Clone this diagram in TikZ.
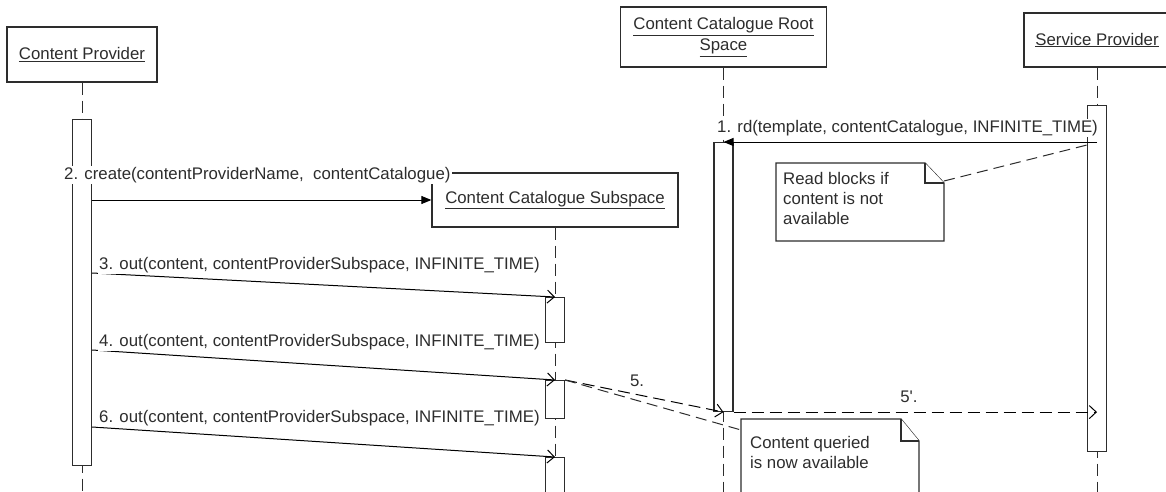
\documentclass[tikz,border=0pt]{standalone}
\usepackage{fontspec}
\setmainfont{Liberation Sans}
\usetikzlibrary{arrows.meta}
\definecolor{ink}{RGB}{45,45,45}
\begin{document}
\begin{tikzpicture}[x=1pt,y=-1pt,
  font=\fontsize{16.8}{20}\selectfont,
  obj/.style={draw=ink, line width=1.3pt, fill=white, inner sep=0pt, text=ink, align=center},
  life/.style={draw=ink, line width=1pt, dash pattern=on 12pt off 6pt},
  bar/.style={draw=ink, line width=1.1pt, fill=white, minimum width=19pt, inner sep=0pt, anchor=north},
  msg/.style={draw=black, line width=1pt},
  sync/.style={msg, -{Triangle[length=10pt,width=8pt]}},
  async/.style={msg, -{Straight Barb[length=7pt,width=13pt,line width=1pt]}},
  reply/.style={async, dash pattern=on 12pt off 6pt},
  lbl/.style={text=ink, fill=white, inner sep=1pt, anchor=west},
  tag/.style={text=ink, inner sep=0pt},
  note/.style={draw=ink, line width=1.2pt, fill=white, line join=miter},
  notetext/.style={text=ink, inner sep=0pt, anchor=north west, align=left},
  noteline/.style={draw=ink, line width=1pt, dash pattern=on 11pt off 6pt}]
\useasboundingbox (0,0) rectangle (1166,492);

% participants
\node[obj, minimum width=150pt, minimum height=55pt] (cp) at (82,54.5) {\underline{Content Provider}};
\node[obj, minimum width=206pt, minimum height=60pt] (root) at (723.5,37) {\underline{Content Catalogue Root}\\[1pt]\underline{Space}};
\node[obj, minimum width=146pt, minimum height=54pt] (sp) at (1097,40) {\underline{Service Provider}};

% lifelines
\draw[life] (cp.south) -- (cp.south |- 0,492);
\draw[life] (root.south) -- (root.south |- 0,492);
\draw[life] (sp.south) -- (sp.south |- 0,492);

% subspace created by message 2
\node[obj, minimum width=246pt, minimum height=54pt] (sub) at (555,200) {\underline{Content Catalogue Subspace}};
\draw[life] (sub.south) -- (sub.south |- 0,492);

% activation bars
\node[bar, minimum height=346pt] (cpbar) at (82,119) {};
\node[bar, minimum height=269pt] (rootbar) at (723.5,142) {};
\node[bar, minimum height=346pt] (spbar) at (1097,105) {};
\node[bar, minimum height=45pt] (ssbar1) at (555,297) {};
\node[bar, minimum height=38pt] (ssbar2) at (555,380) {};
\node[bar, minimum height=45pt] (ssbar3) at (555,457) {};

% message start points on the provider bar
\coordinate (s3) at (92,273);
\coordinate (s4) at (92,350);
\coordinate (s6) at (92,427);

% messages
\draw[sync] (spbar.north |- rootbar.north) -- (rootbar.north);
\draw[sync] (cpbar.east |- sub.west) -- (sub.west);
\draw[async] (s3) -- (ssbar1.north);
\draw[async] (s4) -- (ssbar2.north);
\draw[async] (s6) -- (ssbar3.north);
\draw[reply] (ssbar2.north east) -- (rootbar.south);
\draw[reply] (rootbar.south east) -- (spbar.north |- rootbar.south);

% notes
\draw[note] (776,163) -- (925,163) -- (944,183) -- (944,241) -- (776,241) -- cycle;
\draw[note] (925,163) -- (925,183) -- (944,183);
\node[notetext] (n1) at (783,172) {Read blocks if\\content is not\\available};
\coordinate (n1c) at (944,181);
\draw[noteline] (n1c) -- (spbar.west |- 0,145);

\draw[note] (741,419) -- (901,419) -- (919,441) -- (919,500) -- (741,500) -- cycle;
\draw[note] (901,419) -- (901,441) -- (919,441);
\node[notetext] (n2) at (750,436) {Content queried\\is now available};
\coordinate (n2c) at (741,430);
\draw[noteline] (ssbar2.north east) -- (n2c);

% message labels
\node[lbl] (l1) at (716,128) {1. rd(template, contentCatalogue, INFINITE\_TIME)};
\node[lbl] (l2) at (63,175) {2. create(contentProviderName, \ contentCatalogue)};
\node[lbl] (l3) at (98,265) {3. out(content, contentProviderSubspace, INFINITE\_TIME)};
\node[lbl] (l4) at (98,342) {4. out(content, contentProviderSubspace, INFINITE\_TIME)};
\node[lbl] (l6) at (98,418) {6. out(content, contentProviderSubspace, INFINITE\_TIME)};
\node[tag] (l5) at (637,381) {5.};
\node[tag] (l5b) at (909,397) {5\textquotesingle.};
\end{tikzpicture}
\end{document}
